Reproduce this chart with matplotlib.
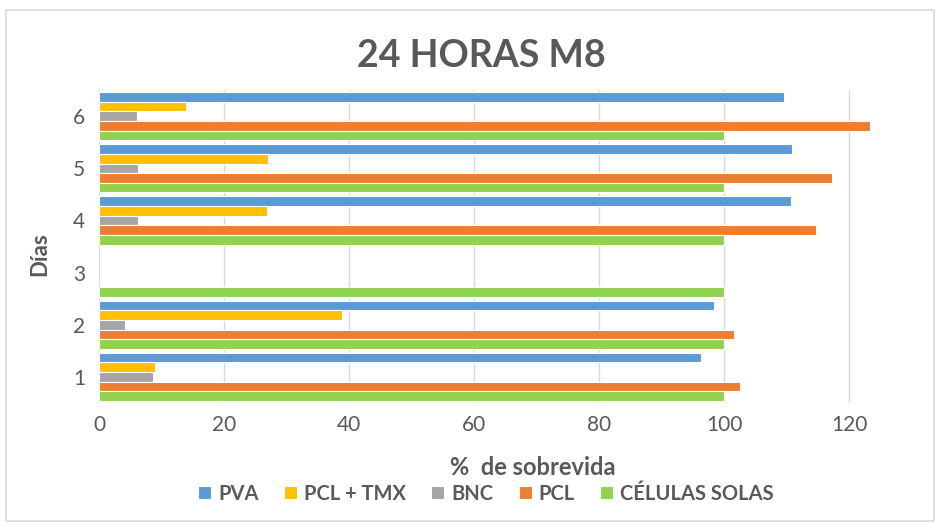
import matplotlib
matplotlib.use("Agg")
import matplotlib.pyplot as plt
from matplotlib.patches import Rectangle
import numpy as np

plt.rcParams['font.family'] = ['Lato', 'DejaVu Sans']

days = ["1", "2", "3", "4", "5", "6"]
series_names = ["PVA", "PCL + TMX", "BNC", "PCL", "CÉLULAS SOLAS"]
pva = [96.3, 98.4, np.nan, 110.7, 110.9, 109.6]
pcl_tmx = [9.0, 38.9, np.nan, 26.9, 27.0, 13.9]
bnc = [8.6, 4.2, np.nan, 6.2, 6.2, 6.1]
pcl = [102.6, 101.6, np.nan, 114.7, 117.3, 123.4]
celulas = [100, 100, 100, 100, 100, 100]
colors = ["#5B9BD5", "#FFC000", "#A5A5A5", "#ED7D31", "#92D050"]

fig = plt.figure(figsize=(9.4, 5.24), dpi=100)
fig.patches.append(Rectangle((0.006, 0.006), 0.988, 0.974, transform=fig.transFigure,
                             fill=False, edgecolor="#D9D9D9", linewidth=1.2))
ax = fig.add_axes([0.1053, 0.231, 0.8644, 0.597])

y = np.arange(len(days))
bh = 0.185
data = [pva, pcl_tmx, bnc, pcl, celulas]
for i, (name, vals, c) in enumerate(zip(series_names, data, colors)):
    off = (2 - i) * bh
    ax.barh(y + off, vals, height=bh, color=c, edgecolor="white", linewidth=0.8, label=name)

ax.set_xlim(0, 130)
ax.set_ylim(-0.5, len(days) - 0.5)
ax.set_xticks([0, 20, 40, 60, 80, 100, 120])
ax.set_yticks(y)
ax.set_yticklabels(days)
ax.tick_params(axis='both', length=0, labelsize=15, colors="#595959")
ax.tick_params(axis='x', pad=9)
ax.tick_params(axis='y', pad=10)
ax.grid(axis='x', color="#D9D9D9", linewidth=1)
ax.set_axisbelow(True)
for s in ax.spines.values():
    s.set_visible(False)

fig.text(0.512, 0.893, "24 HORAS M8", ha='center', va='center', fontsize=27,
         fontweight='bold', color="#595959")
fig.text(0.042, 0.515, "Días", ha='center', va='center', rotation=90, fontsize=16,
         fontweight='bold', color="#595959")
fig.text(0.567, 0.108, "%  de sobrevida", ha='center', va='center', fontsize=17,
         fontweight='bold', color="#595959")

handles, labels = ax.get_legend_handles_labels()
leg = fig.legend(handles, labels, loc='center', bbox_to_anchor=(0.517, 0.058), ncol=5,
                 frameon=False, fontsize=14.5, handlelength=0.65, handleheight=0.65,
                 handletextpad=0.35, columnspacing=1.25)
for t in leg.get_texts():
    t.set_color("#595959")
    t.set_fontweight('bold')

fig.savefig("out.png", dpi=100)
